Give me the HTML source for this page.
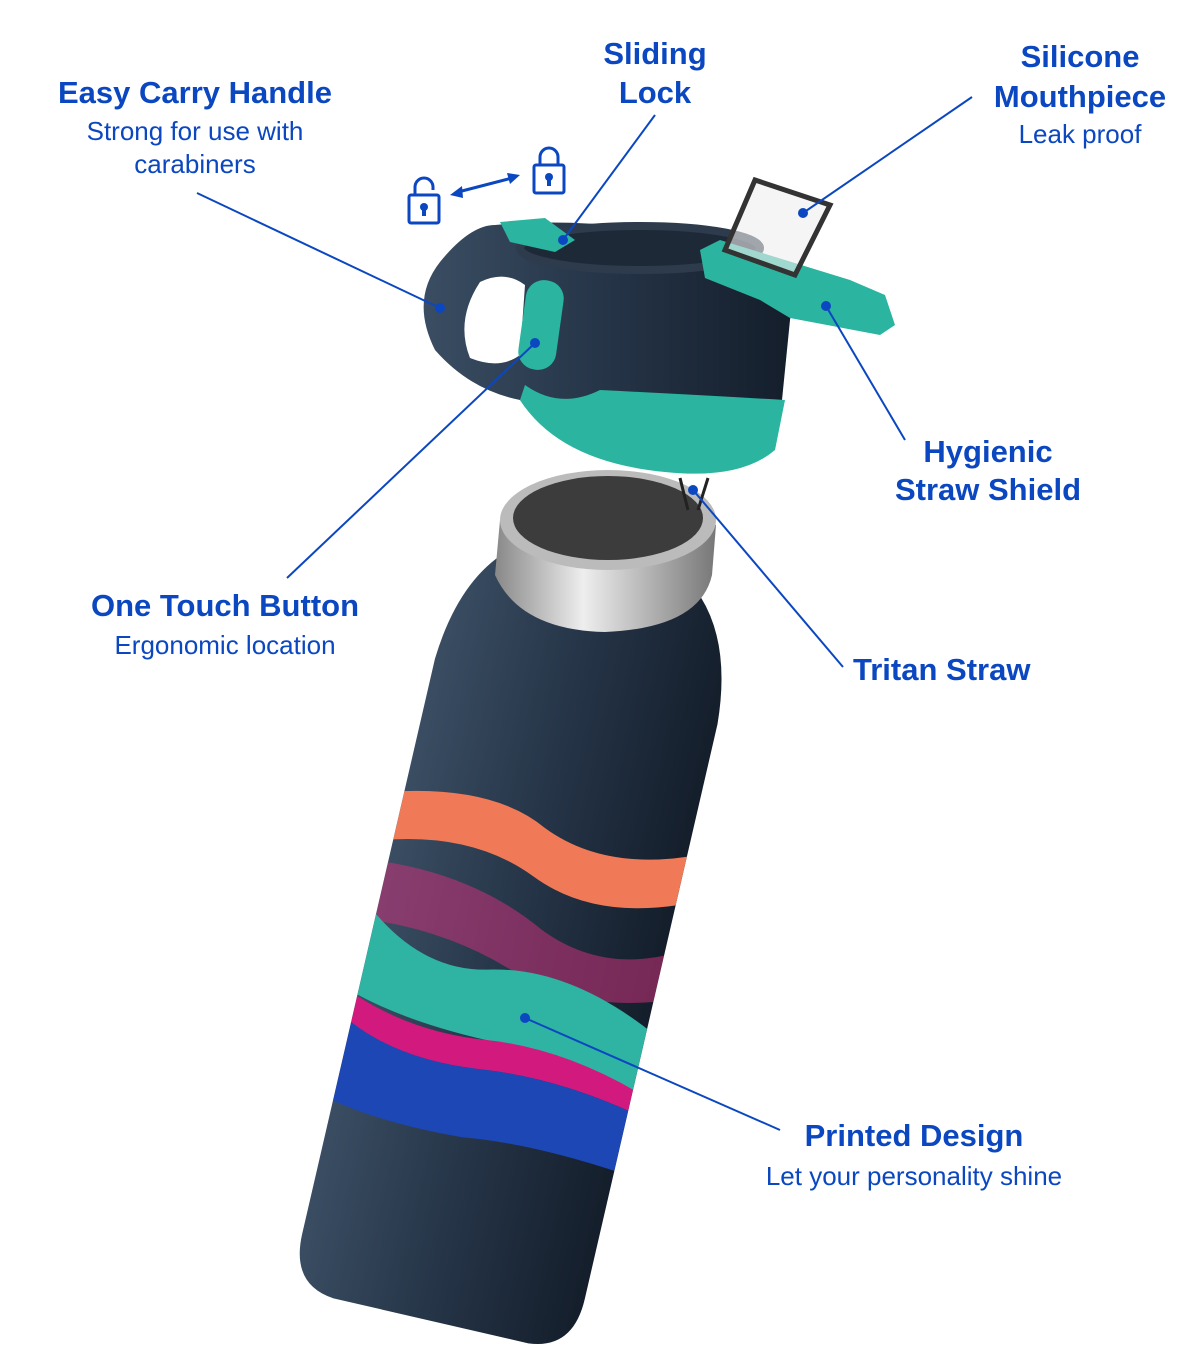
<!DOCTYPE html>
<html><head><meta charset="utf-8"><style>
html,body{margin:0;padding:0;background:#fff;}
svg{display:block;}
text{font-family:"Liberation Sans",sans-serif;fill:#0b47c0;}
.b{font-weight:bold;font-size:31px;}
.r{font-size:26px;}
</style></head><body>
<svg width="1200" height="1350" viewBox="0 0 1200 1350" xmlns="http://www.w3.org/2000/svg">
<defs>
<linearGradient id="nv" x1="0" y1="0" x2="1" y2="0">
<stop offset="0" stop-color="#3a4d62"/><stop offset="0.5" stop-color="#253447"/><stop offset="1" stop-color="#141e2b"/>
</linearGradient>
<linearGradient id="sv" x1="0" y1="0" x2="1" y2="0">
<stop offset="0" stop-color="#888"/><stop offset="0.4" stop-color="#eee"/><stop offset="1" stop-color="#777"/>
</linearGradient>
<clipPath id="bc"><path d="M -100,-370 Q -140,-330 -145,-250 L -145,340 Q -145,392 -100,396 L 100,396 Q 145,392 145,340 L 145,-250 Q 140,-330 100,-370 Z"/></clipPath>
</defs>

<g transform="translate(520,935) rotate(13)">
<path d="M -100,-370 Q -140,-330 -145,-250 L -145,340 Q -145,392 -100,396 L 100,396 Q 145,392 145,340 L 145,-250 Q 140,-330 100,-370 Z" fill="url(#nv)"/>
<g clip-path="url(#bc)">
<path d="M -160,-110 Q -60,-140 0,-110 Q 70,-80 160,-120 L 160,-70 Q 70,-30 0,-60 Q -70,-90 -160,-60 Z" fill="#f07a57"/>
<path d="M -160,-40 Q -60,-50 20,-10 Q 90,20 160,-20 L 160,30 Q 80,60 10,40 Q -70,10 -160,20 Z" fill="#c8317a" opacity="0.55"/>
<path d="M -160,0 Q -90,60 -20,40 Q 60,20 160,70 L 160,130 Q 70,110 -10,110 Q -100,110 -160,90 Z" fill="#2fb3a2"/>
<path d="M -160,90 Q -90,120 -10,110 Q 70,100 160,130 L 160,150 Q 70,130 -10,140 Q -100,150 -160,115 Z" fill="#d21a7e"/>
<path d="M -160,115 Q -100,150 -10,140 Q 70,130 160,150 L 160,210 Q 60,200 -10,210 Q -100,215 -160,200 Z" fill="#1c47b5"/>
</g>
</g>

<path d="M 500,520 L 495,575 Q 520,630 605,632 Q 700,628 712,575 L 716,525 Z" fill="url(#sv)"/>
<ellipse cx="608" cy="520" rx="108" ry="50" fill="#bbb"/>
<ellipse cx="608" cy="518" rx="95" ry="42" fill="#3c3c3c"/>
<line x1="680" y1="478" x2="688" y2="510" stroke="#222" stroke-width="3"/>
<line x1="708" y1="478" x2="698" y2="510" stroke="#222" stroke-width="3"/>

<path d="M 495,225 Q 600,215 745,245 Q 800,265 790,320 L 780,420 Q 760,475 665,470 Q 560,460 520,400 Q 470,390 435,350 Q 410,300 440,262 Q 470,225 495,225 Z" fill="url(#nv)"/>
<path d="M 525,385 Q 560,410 600,390 Q 700,395 785,400 L 775,450 Q 740,480 665,472 Q 560,462 520,400 Z" fill="#2bb5a0"/>
<path d="M 480,282 Q 505,270 525,285 L 520,355 Q 500,370 470,358 Q 455,320 480,282 Z" fill="#fff"/>
<rect x="522" y="280" width="38" height="90" rx="18" fill="#2bb5a0" transform="rotate(8 541 325)"/>
<ellipse cx="640" cy="248" rx="120" ry="22" fill="#1e2938" stroke="#2d3b4d" stroke-width="8"/>
<path d="M 500,222 L 545,218 L 575,240 L 555,252 L 510,242 Z" fill="#2bb5a0"/>
<path d="M 700,250 L 720,240 L 850,280 L 885,295 L 895,325 L 880,335 L 790,318 L 760,300 L 705,278 Z" fill="#2bb5a0"/>
<path d="M 725,250 L 755,180 L 830,205 L 795,275 Z" fill="#eee" stroke="#333" stroke-width="5" fill-opacity="0.6"/>

<g fill="none" stroke="#0b47c0" stroke-width="3">
<rect x="409" y="195" width="30" height="28" rx="2"/>
<path d="M 415,195 V 187 A 9 9 0 0 1 433 187 V 190"/>
<rect x="534" y="165" width="30" height="28" rx="2"/>
<path d="M 540,165 V 157 A 9 9 0 0 1 558 157 V 165"/>
<line x1="458" y1="192" x2="512" y2="178"/>
</g>
<circle cx="424" cy="207" r="4" fill="#0b47c0"/><rect x="422" y="207" width="4" height="9" fill="#0b47c0"/>
<circle cx="549" cy="177" r="4" fill="#0b47c0"/><rect x="547" y="177" width="4" height="9" fill="#0b47c0"/>
<path d="M 450,195 L 462,186 L 463,198 Z M 520,175 L 507,173 L 510,184 Z" fill="#0b47c0"/>

<g stroke="#0b47c0" stroke-width="2" fill="none">
<line x1="197" y1="193" x2="440" y2="308"/>
<line x1="655" y1="115" x2="563" y2="240"/>
<line x1="972" y1="97" x2="803" y2="213"/>
<line x1="905" y1="440" x2="826" y2="306"/>
<line x1="287" y1="578" x2="535" y2="343"/>
<line x1="843" y1="667" x2="693" y2="490"/>
<line x1="780" y1="1130" x2="525" y2="1018"/>
</g>
<g fill="#0b47c0">
<circle cx="440" cy="308" r="5"/><circle cx="563" cy="240" r="5"/><circle cx="803" cy="213" r="5"/>
<circle cx="826" cy="306" r="5"/><circle cx="535" cy="343" r="5"/><circle cx="693" cy="490" r="5"/>
<circle cx="525" cy="1018" r="5"/>
</g>

<g text-anchor="middle">
<text class="b" x="195" y="103">Easy Carry Handle</text>
<text class="r" x="195" y="140">Strong for use with</text>
<text class="r" x="195" y="173">carabiners</text>
<text class="b" x="655" y="64">Sliding</text>
<text class="b" x="655" y="103">Lock</text>
<text class="b" x="1080" y="67">Silicone</text>
<text class="b" x="1080" y="107">Mouthpiece</text>
<text class="r" x="1080" y="143">Leak proof</text>
<text class="b" x="988" y="462">Hygienic</text>
<text class="b" x="988" y="500">Straw Shield</text>
<text class="b" x="225" y="616">One Touch Button</text>
<text class="r" x="225" y="654">Ergonomic location</text>
<text class="b" x="914" y="1146">Printed Design</text>
<text class="r" x="914" y="1185">Let your personality shine</text>
</g>
<text class="b" x="853" y="680">Tritan Straw</text>
</svg>
</body></html>
